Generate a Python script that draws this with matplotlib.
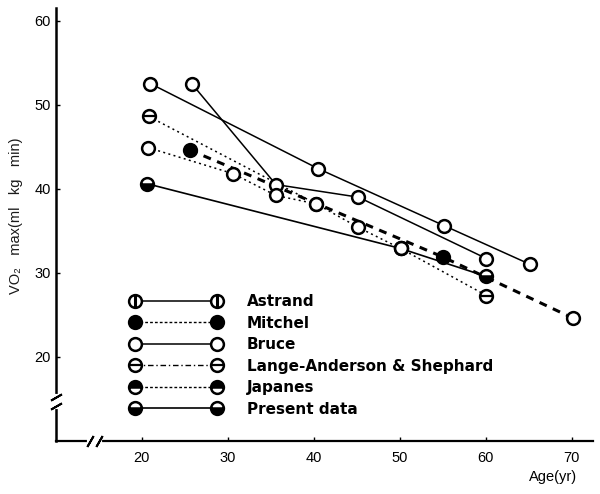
import matplotlib
matplotlib.use("Agg")
import matplotlib.pyplot as plt
from matplotlib.lines import Line2D
from matplotlib.legend_handler import HandlerTuple

plt.rcParams["font.family"] = ["Liberation Sans", "DejaVu Sans"]

# values (age in years, VO2 max in ml/kg/min)
astrand_age = [21.0, 40.5, 55.2, 65.2]
astrand_vo2 = [52.5, 42.4, 35.6, 31.0]
bruce_age = [25.8, 35.6, 45.2, 60.1]
bruce_vo2 = [52.5, 40.5, 39.0, 31.7]
mitchel_age = [25.6, 55.0, 70.2]
mitchel_vo2 = [44.6, 31.9, 24.6]
lange_age = [20.8, 40.3, 45.2, 50.1, 60.1]
lange_vo2 = [48.6, 38.2, 35.4, 32.9, 27.3]
japanes_age = [20.7, 30.6, 35.6, 40.3]
japanes_vo2 = [44.9, 41.8, 39.2, 38.2]
present_age = [20.6, 50.1, 60.0]
present_vo2 = [40.6, 32.9, 29.6]

labels = ["Astrand", "Mitchel", "Bruce", "Lange-Anderson & Shephard",
          "Japanes", "Present data"]
x_ticks = [20, 30, 40, 50, 60, 70]
y_ticks = [20, 30, 40, 50, 60]

MS = 9.2
MEW = 1.8
open_marker = dict(marker="o", ms=MS, mew=MEW, mec="black", mfc="white",
                   ls="none", zorder=4, clip_on=False)

fig = plt.figure(figsize=(6, 4.94), dpi=100)
ax = fig.add_axes([0.0933, 0.1073, 0.895, 0.8765])
ax.set_xlim(10, 72.5)
ax.set_ylim(10, 61.5)

# lines
ax.plot(astrand_age, astrand_vo2, color="black", lw=1.1, zorder=2)
ax.plot(bruce_age, bruce_vo2, color="black", lw=1.1, zorder=2)
ax.plot(present_age, present_vo2, color="black", lw=1.2, zorder=2)
ax.plot(mitchel_age, mitchel_vo2, color="black", lw=2.2, dashes=(2.6, 2.2), zorder=2)
ax.plot(lange_age, lange_vo2, color="black", lw=1.1, dashes=(1.3, 2.2), zorder=2)
ax.plot(japanes_age, japanes_vo2, color="black", lw=1.1, dashes=(1.3, 2.2), zorder=2)

# markers
ax.plot(astrand_age, astrand_vo2, **open_marker)
ax.plot(bruce_age, bruce_vo2, **open_marker)
ax.plot(japanes_age, japanes_vo2, **open_marker)
ax.plot(lange_age, lange_vo2, **open_marker)
ax.plot(lange_age, lange_vo2, marker="_", ms=MS, mew=1.6, color="black",
        ls="none", markevery=[0, len(lange_age) - 1], zorder=5)
ax.plot(mitchel_age, mitchel_vo2, marker="o", ms=MS, mew=MEW, color="black",
        ls="none", markevery=[0, 1], zorder=4)
ax.plot(mitchel_age, mitchel_vo2, markevery=[2], **open_marker)
ax.plot(present_age, present_vo2, marker="o", ms=MS, mew=MEW, mec="black",
        mfc="black", mfcalt="white", fillstyle="bottom", ls="none", zorder=4)
ax.plot(present_age[1:2], present_vo2[1:2], **open_marker)

# axes styling
for side in ["top", "right"]:
    ax.spines[side].set_visible(False)
ax.spines["left"].set_linewidth(1.8)
ax.spines["bottom"].set_linewidth(1.6)
ax.set_xticks(x_ticks)
ax.set_yticks(y_ticks)
ax.tick_params(direction="in", length=3, width=1, labelsize=10.5, colors="black")
ax.tick_params(axis="x", pad=7)
ax.tick_params(axis="y", pad=3.5)

ax.set_ylabel("VO\u2082   max(ml   kg   min)", fontsize=10.5, color="#1a1a1a")
ax.yaxis.set_label_coords(-0.062, 0.52)
ax.set_xlabel("Age(yr)", fontsize=10.5)
ax.xaxis.set_label_coords(0.925, -0.066)

# axis break marks
ax.plot([13.9, 15.1], [10, 10], color="white", lw=3, clip_on=False, zorder=6)
ax.plot([14.0, 15.0], [10, 10], marker=(2, 2, -30), ms=9, mew=1.4, color="black",
        ls="none", clip_on=False, zorder=7)
ax.plot([10, 10], [14.1, 15.3], color="white", lw=3, clip_on=False, zorder=6)
ax.plot([10, 10], [14.2, 15.2], marker=(2, 2, -60), ms=9, mew=1.4, color="black",
        ls="none", clip_on=False, zorder=7)

# legend (symbols as printed in the key)
lk = dict(color="black", ms=MS, mew=MEW, mec="black")
h_astrand = (Line2D([], [], lw=1.1, marker="o", mfc="white", **lk),
             Line2D([], [], lw=0, marker="|", ms=MS, mew=2.2, color="black"))
h_mitchel = Line2D([], [], lw=1.0, dashes=(2, 1.5), marker="o", mfc="black", **lk)
h_bruce = Line2D([], [], lw=1.1, marker="o", mfc="white", **lk)
h_lange = (Line2D([], [], lw=1.0, dashes=(4, 2, 1, 2), marker="o", mfc="white", **lk),
           Line2D([], [], lw=0, marker="_", ms=MS, mew=1.6, color="black"))
h_japanes = Line2D([], [], lw=1.0, dashes=(2, 1.5), marker="o", mfc="black",
                   mfcalt="white", fillstyle="top", **lk)
h_present = Line2D([], [], lw=1.2, marker="o", mfc="black", mfcalt="white",
                   fillstyle="bottom", **lk)
handles = [h_astrand, h_mitchel, h_bruce, h_lange, h_japanes, h_present]

ax.legend(handles, labels, handler_map={tuple: HandlerTuple(ndivide=1, pad=0)},
          loc="upper left", bbox_to_anchor=(130 / 600, 1 - 294 / 494),
          bbox_transform=fig.transFigure, frameon=False, borderpad=0,
          borderaxespad=0, numpoints=2, handlelength=6.0, handletextpad=1.65,
          labelspacing=0.43, prop=dict(family="DejaVu Sans", weight="bold", size=11))

fig.savefig("out.png", dpi=100)
